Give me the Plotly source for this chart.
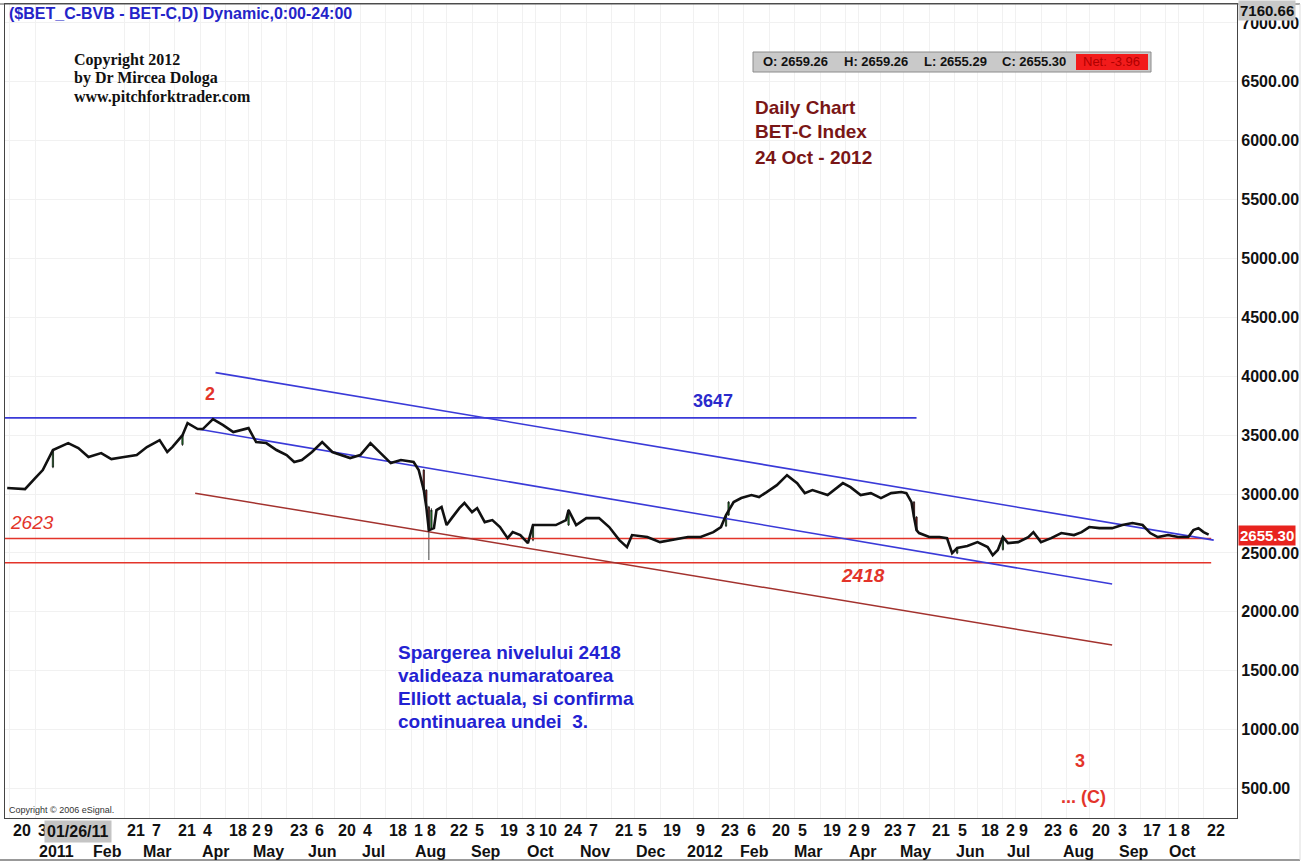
import plotly.graph_objects as go

# ---------------- data ----------------
DATES = [
    "2010-12-17", "2010-12-22", "2010-12-28", "2011-01-03", "2011-01-06", "2011-01-12", "2011-01-20",
    "2011-01-26", "2011-02-01", "2011-02-08", "2011-02-14", "2011-02-21", "2011-02-28", "2011-03-04",
    "2011-03-11", "2011-03-16", "2011-03-18", "2011-03-24", "2011-03-28", "2011-04-01", "2011-04-05",
    "2011-04-11", "2011-04-15", "2011-04-21", "2011-05-02", "2011-05-05", "2011-05-11", "2011-05-17",
    "2011-05-23", "2011-05-26", "2011-05-31", "2011-06-06", "2011-06-10", "2011-06-17", "2011-06-28",
    "2011-07-04", "2011-07-08", "2011-07-14", "2011-07-20", "2011-07-26", "2011-08-02", "2011-08-04",
    "2011-08-08", "2011-08-09", "2011-08-10", "2011-08-12", "2011-08-16", "2011-08-18", "2011-08-22",
    "2011-08-24", "2011-08-29", "2011-08-31", "2011-09-05", "2011-09-07", "2011-09-12", "2011-09-15",
    "2011-09-20", "2011-09-23", "2011-09-27", "2011-09-30", "2011-10-05", "2011-10-07", "2011-10-13",
    "2011-10-20", "2011-10-26", "2011-10-27", "2011-11-01", "2011-11-07", "2011-11-14", "2011-11-18",
    "2011-11-24", "2011-11-29", "2011-12-02", "2011-12-12", "2011-12-19", "2011-12-27", "2012-01-05",
    "2012-01-12", "2012-01-19", "2012-01-24", "2012-01-26", "2012-01-31", "2012-02-03", "2012-02-09",
    "2012-02-14", "2012-02-17", "2012-02-23", "2012-02-29", "2012-03-06", "2012-03-09", "2012-03-14",
    "2012-03-22", "2012-03-28", "2012-03-30", "2012-04-04", "2012-04-10", "2012-04-17", "2012-04-23",
    "2012-04-27", "2012-05-04", "2012-05-08", "2012-05-10", "2012-05-11", "2012-05-14", "2012-05-15",
    "2012-05-21", "2012-05-25", "2012-05-30", "2012-06-01", "2012-06-06", "2012-06-12", "2012-06-18",
    "2012-06-22", "2012-06-26", "2012-06-28", "2012-07-02", "2012-07-04", "2012-07-10", "2012-07-16",
    "2012-07-18", "2012-07-23", "2012-07-27", "2012-08-02", "2012-08-09", "2012-08-14", "2012-08-20",
    "2012-08-24", "2012-08-31", "2012-09-06", "2012-09-12", "2012-09-18", "2012-09-21", "2012-09-26",
    "2012-10-02", "2012-10-08", "2012-10-12", "2012-10-16", "2012-10-18", "2012-10-22", "2012-10-24",
]
CLOSE = [
    3051, 3045, 3042, 3136, 3204, 3374, 3433,
    3390, 3314, 3348, 3297, 3314, 3331, 3399,
    3458, 3357, 3399, 3500, 3603, 3552, 3552,
    3637, 3586, 3526, 3560, 3441, 3433, 3374,
    3331, 3272, 3289, 3357, 3441, 3357, 3306,
    3331, 3433, 3348, 3263, 3289, 3272, 3204,
    3034, 2890, 2694, 2711, 2864, 2890, 2737,
    2796, 2881, 2924, 2847, 2881, 2762, 2779,
    2720, 2626, 2677, 2652, 2584, 2737, 2737,
    2737, 2779, 2864, 2737, 2796, 2796, 2720,
    2609, 2550, 2652, 2635, 2592, 2609, 2635,
    2635, 2677, 2720, 2822, 2932, 2966, 2992,
    2975, 3017, 3076, 3161, 3093, 3008, 3034,
    2992, 3059, 3093, 3059, 2992, 3008, 2966,
    3008, 3017, 3008, 2932, 2805, 2694, 2669,
    2635, 2635, 2626, 2499, 2542, 2559, 2592,
    2550, 2482, 2525, 2635, 2584, 2592, 2635,
    2677, 2592, 2626, 2669, 2652, 2677, 2720,
    2711, 2711, 2737, 2754, 2737, 2669, 2635,
    2652, 2635, 2635, 2694, 2711, 2677, 2655.30,
]

# a few clearly visible candle bodies
CANDLE_DATES = ["2011-01-12", "2011-03-24", "2011-08-08", "2011-08-09", "2011-08-10", "2011-08-11",
                "2011-10-07", "2011-10-27", "2012-01-26", "2012-01-27", "2012-05-11", "2012-05-14",
                "2012-06-06", "2012-07-02"]
CANDLE_OPEN = [3230, 3420, 3204, 3034, 2890, 2711, 2610, 2737, 2730, 2822, 2932, 2805, 2499, 2530]
CANDLE_HIGH = [3380, 3510, 3210, 3040, 2900, 2880, 2745, 2870, 2830, 2940, 2940, 2812, 2550, 2640]
CANDLE_LOW = [3220, 3410, 3020, 2880, 2440, 2700, 2600, 2730, 2720, 2815, 2800, 2690, 2490, 2520]
CANDLE_CLOSE = [3370, 3500, 3034, 2890, 2694, 2864, 2737, 2864, 2822, 2932, 2805, 2694, 2545, 2635]

# drawn lines (date, value end points)
UP_CH_DATES = ["2011-04-12", "2012-10-26"]
UP_CH_VALS = [4031, 2609]
LO_CH_DATES = ["2011-04-01", "2012-08-31"]
LO_CH_VALS = [3552, 2236]
RED_CH_DATES = ["2011-03-31", "2012-08-31"]
RED_CH_VALS = [3008, 1718]
LVL_3647_DATES = ["2010-12-01", "2012-05-14"]
LVL_3647 = [3647, 3647]
LVL_RED_DATES = ["2010-12-01", "2012-10-25"]
LVL_2623 = [2623, 2623]
LVL_2418 = [2418, 2418]

HOLIDAYS = ["2011-04-25", "2011-06-13", "2011-08-15", "2011-12-01", "2011-12-26",
            "2012-01-02", "2012-04-16", "2012-05-01", "2012-06-04", "2012-08-15"]
X_RANGE = ["2010-12-16 03:00", "2012-11-08 04:00"]
Y_RANGE = [250, 7160.66]
Y_TICKS = [500, 1000, 1500, 2000, 2500, 3000, 3500, 4000, 4500, 5000, 5500, 6000, 6500, 7000]

TICK_DATES = ["2010-12-20", "2011-01-03", "2011-02-21", "2011-03-07", "2011-03-21", "2011-04-04",
              "2011-04-18", "2011-05-02", "2011-05-09", "2011-05-23", "2011-06-06", "2011-06-20",
              "2011-07-04", "2011-07-18", "2011-08-01", "2011-08-08", "2011-08-22", "2011-09-05",
              "2011-09-19", "2011-10-03", "2011-10-10", "2011-10-24", "2011-11-07", "2011-11-21",
              "2011-12-05", "2011-12-19", "2012-01-09", "2012-01-23", "2012-02-06", "2012-02-20",
              "2012-03-05", "2012-03-19", "2012-04-02", "2012-04-09", "2012-04-23", "2012-05-07",
              "2012-05-21", "2012-06-05", "2012-06-18", "2012-07-02", "2012-07-09", "2012-07-23",
              "2012-08-06", "2012-08-20", "2012-09-03", "2012-09-17", "2012-10-01", "2012-10-08",
              "2012-10-22"]
TICK_TEXT = ["20", "3", "21", "7", "21", "4", "18", "2", "9", "23", "6", "20", "4", "18", "1", "8",
             "22", "5", "19", "3", "10", "24", "7", "21", "5", "19", "9", "23", "6", "20", "5", "19",
             "2", "9", "23", "7", "21", "5", "18", "2", "9", "23", "6", "20", "3", "17", "1", "8", "22"]
MONTH_DATES = ["2011-01-03", "2011-02-01", "2011-03-01", "2011-04-01", "2011-05-02", "2011-06-01",
               "2011-07-01", "2011-08-01", "2011-09-01", "2011-10-03", "2011-11-01", "2011-12-02",
               "2012-01-03", "2012-02-01", "2012-03-01", "2012-04-02", "2012-05-02", "2012-06-01",
               "2012-07-02", "2012-08-01", "2012-09-03", "2012-10-01"]
MONTH_TEXT = ["2011", "Feb", "Mar", "Apr", "May", "Jun", "Jul", "Aug", "Sep", "Oct", "Nov", "Dec",
              "2012", "Feb", "Mar", "Apr", "May", "Jun", "Jul", "Aug", "Sep", "Oct"]
CURSOR_DATE = "2011-01-26"

# ---------------- layout geometry ----------------
W, H = 1314, 864
L, R, T, B = 5, 77, 4, 46
PW, PH = W - L - R, H - T - B
SANS = "Liberation Sans, Arial, sans-serif"
SERIF = "Liberation Serif, Times New Roman, serif"

def px(x):
    return (x - L) / PW

def py(y):
    return (H - B - y) / PH

BLUE = "#3a3ad8"
RED = "#e3342a"
DARKRED = "#a3322e"

fig = go.Figure()

def line(xs, ys, color, width):
    fig.add_trace(go.Scatter(x=xs, y=ys, mode="lines", line=dict(color=color, width=width),
                             hoverinfo="skip", showlegend=False))

line(LVL_RED_DATES, LVL_2623, RED, 1.5)
line(LVL_RED_DATES, LVL_2418, RED, 1.5)
line(LVL_3647_DATES, LVL_3647, BLUE, 1.6)
line(UP_CH_DATES, UP_CH_VALS, BLUE, 1.6)
line(LO_CH_DATES, LO_CH_VALS, BLUE, 1.6)
line(RED_CH_DATES, RED_CH_VALS, DARKRED, 1.5)
fig.add_trace(go.Scatter(x=DATES, y=CLOSE, mode="lines", line=dict(color="#111111", width=2.6),
                         hoverinfo="skip", showlegend=False))
fig.add_trace(go.Candlestick(
    x=CANDLE_DATES, open=CANDLE_OPEN, high=CANDLE_HIGH, low=CANDLE_LOW, close=CANDLE_CLOSE,
    increasing=dict(line=dict(color="#111111", width=0.8), fillcolor="#1e9e2a"),
    decreasing=dict(line=dict(color="#111111", width=0.8), fillcolor="#b01818"),
    whiskerwidth=0, hoverinfo="skip", showlegend=False))

ann = []

def txt(x, y, s, size, color, family=SANS, bold=False, italic=False, xanchor="left", bg=None,
        pad=1):
    t = s
    if bold:
        t = "<b>" + t + "</b>"
    if italic:
        t = "<i>" + t + "</i>"
    d = dict(x=px(x), y=py(y), xref="paper", yref="paper", text=t, showarrow=False,
             xanchor=xanchor, yanchor="middle", font=dict(family=family, size=size, color=color),
             borderpad=pad)
    if bg:
        d["bgcolor"] = bg
    ann.append(d)

# title and headers
txt(7, 13, "($BET_C-BVB - BET-C,D) Dynamic,0:00-24:00", 16, "#2424c8", bold=True)
txt(72, 60, "Copyright 2012", 16, "#111111", family=SERIF, bold=True)
txt(72, 78, "by Dr Mircea Dologa", 16, "#111111", family=SERIF, bold=True)
txt(72, 97, "www.pitchforktrader.com", 16, "#111111", family=SERIF, bold=True)
txt(753, 108, "Daily Chart", 19, "#7a1616", bold=True)
txt(753, 132, "BET-C Index", 19, "#7a1616", bold=True)
txt(753, 157, "24 Oct - 2012", 19, "#7a1616", bold=True)

# OHLC bar texts
txt(761, 61, "O: 2659.26", 13, "#111111", bold=True)
txt(842, 61, "H: 2659.26", 13, "#111111", bold=True)
txt(922, 61, "L: 2655.29", 13, "#111111", bold=True)
txt(1000, 61, "C: 2655.30", 13, "#111111", bold=True)
txt(1081, 61, "Net: -3.96", 13, "#b00000")

# chart annotations
txt(210, 394, "2", 18, RED, bold=True, xanchor="center")
txt(713, 401, "3647", 18, "#2a2acc", bold=True, xanchor="center")
txt(32, 522, "2623", 19, RED, italic=True, xanchor="center")
txt(863, 576, "2418", 19, RED, bold=True, italic=True, xanchor="center")
txt(1080, 761, "3", 18, RED, bold=True, xanchor="center")
txt(1083, 797, "... (C)", 18, RED, bold=True, xanchor="center")
for i, s in enumerate(["Spargerea nivelului 2418", "valideaza numaratoarea",
                       "Elliott actuala, si confirma", "continuarea undei  3."]):
    txt(396, 652 + 23 * i, s, 19, "#2222d2", bold=True)
txt(7, 810, "Copyright \u00a9 2006 eSignal.", 9, "#333333")

# right-hand price boxes
txt(1238, 10, "7160.66", 15, "#111111", bold=True, bg="#c8c8c8", pad=1)
txt(1238, 535, "2655.30", 15, "#ffffff", bold=True, bg="#e8231e", pad=1)

# date axis rows (placed on the date scale)
for d, s in zip(TICK_DATES, TICK_TEXT):
    ann.append(dict(x=d, y=py(830), xref="x", yref="paper", text="<b>" + s + "</b>",
                    showarrow=False, xanchor="left", yanchor="middle", xshift=1,
                    font=dict(family=SANS, size=16, color="#111111")))
for d, s in zip(MONTH_DATES, MONTH_TEXT):
    ann.append(dict(x=d, y=py(851), xref="x", yref="paper", text="<b>" + s + "</b>",
                    showarrow=False, xanchor="left", yanchor="middle", xshift=2,
                    font=dict(family=SANS, size=16, color="#111111")))
ann.append(dict(x=CURSOR_DATE, y=py(831), xref="x", yref="paper", text="<b>01/26/11</b>",
                showarrow=False, xanchor="center", yanchor="middle", bgcolor="#c4c4c4",
                borderpad=2, font=dict(family=SANS, size=16, color="#111111")))

shapes = [
    # OHLC status bar
    dict(type="rect", xref="paper", yref="paper", x0=px(753), x1=px(1151), y0=py(72), y1=py(52),
         fillcolor="#c9c9c9", line=dict(color="#8c8c8c", width=1), layer="above"),
    dict(type="rect", xref="paper", yref="paper", x0=px(1076), x1=px(1148), y0=py(70), y1=py(54),
         fillcolor="#f21b1b", line=dict(width=0), layer="above"),
    # outer frame lines of the price panel
    dict(type="line", xref="paper", yref="paper", x0=px(0), x1=px(1300), y0=py(4), y1=py(4),
         line=dict(color="#555555", width=1)),
    dict(type="line", xref="paper", yref="paper", x0=px(0), x1=px(1300), y0=py(860), y1=py(860),
         line=dict(color="#777777", width=1.5)),
    dict(type="line", xref="paper", yref="paper", x0=px(1300), x1=px(1300), y0=py(4), y1=py(860),
         line=dict(color="#dddddd", width=1)),
]

fig.update_layout(
    width=W, height=H, margin=dict(l=L, r=R, t=T, b=B),
    paper_bgcolor="white", plot_bgcolor="white",
    showlegend=False, annotations=ann, shapes=shapes,
    xaxis=dict(type="date", range=X_RANGE,
               rangebreaks=[dict(bounds=["sat", "mon"]), dict(values=HOLIDAYS)],
               rangeslider=dict(visible=False),
               tickvals=TICK_DATES, showticklabels=False, ticks="",
               showgrid=True, gridcolor="#f1f1f1", gridwidth=1,
               showline=True, mirror=True, linecolor="#444444", linewidth=1.2, zeroline=False),
    yaxis=dict(range=Y_RANGE, side="right", tickvals=Y_TICKS, tickformat=".2f", ticks="",
               tickfont=dict(family=SANS, size=16, color="#111111", weight="bold"),
               showgrid=True, gridcolor="#f1f1f1", gridwidth=1,
               showline=True, mirror=True, linecolor="#444444", linewidth=1.2, zeroline=False),
)

fig.write_html("out.html", config={"displayModeBar": False},
               post_script="document.body.style.margin='0';document.body.style.overflow='hidden';")
